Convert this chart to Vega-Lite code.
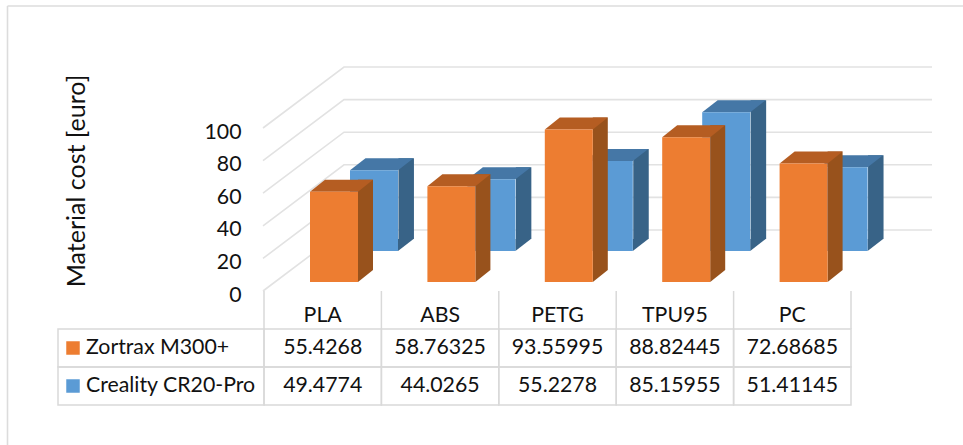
{
"$schema":"https://vega.github.io/schema/vega-lite/v6.json",
"width":963,"height":445,"padding":0,"autosize":{"type":"none"},"background":"white",
"config":{"view":{"stroke":null},"font":"Lato","text":{"font":"Lato","fontSize":21.3,"color":"#111111"}},
"datasets":{
"rows":[
{"material":"PLA","series":"Zortrax M300+","cost":55.4268},
{"material":"ABS","series":"Zortrax M300+","cost":58.76325},
{"material":"PETG","series":"Zortrax M300+","cost":93.55995},
{"material":"TPU95","series":"Zortrax M300+","cost":88.82445},
{"material":"PC","series":"Zortrax M300+","cost":72.68685},
{"material":"PLA","series":"Creality CR20-Pro","cost":49.4774},
{"material":"ABS","series":"Creality CR20-Pro","cost":44.0265},
{"material":"PETG","series":"Creality CR20-Pro","cost":55.2278},
{"material":"TPU95","series":"Creality CR20-Pro","cost":85.15955},
{"material":"PC","series":"Creality CR20-Pro","cost":51.41145}],
"ticks":[{"tick":0},{"tick":20},{"tick":40},{"tick":60},{"tick":80},{"tick":100}],
"names":[{"series":"Zortrax M300+"},{"series":"Creality CR20-Pro"}],
"edge":[{"edge":"frame"}]
},
"data":{"name":"rows"},
"resolve":{"scale":{"x":"independent","y":"independent"},"axis":{"x":"independent","y":"independent"}},
"layer":[
{"data":{"name":"edge"},"mark":{"type":"rule","color":"#dcdcdc","strokeWidth":1.6},
 "encoding":{"x":{"datum":0,"type":"quantitative","scale":{"domain":[0,1],"range":[7.5,963]},"axis":null},"x2":{"datum":1},"y":{"datum":0,"type":"quantitative","scale":{"domain":[0,1],"range":[6,445]},"axis":null}}},
{"data":{"name":"edge"},"mark":{"type":"rule","color":"#dcdcdc","strokeWidth":1.6},
 "encoding":{"y":{"datum":0,"type":"quantitative","scale":{"domain":[0,1],"range":[6,445]},"axis":null},"y2":{"datum":1},"x":{"datum":0,"type":"quantitative","scale":{"domain":[0,1],"range":[7.5,963]},"axis":null}}},
{"data":{"name":"ticks"},
  "mark":{"type":"point","shape":"M0 0L81 -61L669 -61","size":4,"filled":false,"fill":"transparent","stroke":"#e2e2e2","strokeWidth":1.6,"opacity":1},
  "encoding":{"x":{"datum":"PLA","bandPosition":0,"type":"nominal","scale":{"type":"band","domain":["PLA","ABS","PETG","TPU95","PC"],"range":[263,851],"padding":0},"axis":null},
   "y":{"field":"tick","type":"quantitative","scale":{"domain":[0,100],"range":[291,128],"nice":false},"axis":{"values":[0,20,40,60,80,100],"offset":-245,"domain":false,"ticks":false,"grid":false,"labelPadding":4,"labelFontSize":21.3,"labelColor":"#111111","labelFont":"Lato","labelOffset":4,"title":"Material cost [euro]","titleFont":"Lato","titleFontSize":25,"titleFontWeight":"normal","titleColor":"#111111","titleX":-169,"titleY":180.5,"titleAngle":270,"titleAlign":"center","titleBaseline":"middle"}}}},
{
"encoding":{
 "x":{"field":"material","type":"nominal","sort":null,"scale":{"type":"band","domain":["PLA","ABS","PETG","TPU95","PC"],"range":[264,851],"padding":0},"axis":null},
 "y":{"field":"cost","type":"quantitative","stack":null,"scale":{"domain":[0,100],"range":[291,128],"nice":false},"axis":null}
},
"layer":[
 {"transform":[{"filter":"datum.series === 'Creality CR20-Pro'"}],
  "layer":[
   {"mark":{"type":"bar","color":"#386387","width":15.5,"xOffset":83.5,"yOffset":-52,"y2Offset":-52},"encoding":{"y2":{"datum":0}}},
   {"mark":{"type":"point","shape":"M24 0L39.5 -12L24 -12Z","size":4,"filled":true,"color":"#386387","opacity":1,"xOffset":51.3,"yOffset":-40},"encoding":{"y":{"datum":0}}},
   {"mark":{"type":"point","shape":"M-24 0L24 0L39.5 -12L-8.5 -12Z","size":4,"filled":true,"color":"#4577A6","opacity":1,"xOffset":51.3,"yOffset":-40}},
   {"mark":{"type":"bar","width":48,"xOffset":51.3,"yOffset":-40,"y2Offset":-40},"encoding":{"y2":{"datum":0},"color":{"field":"series","type":"nominal","scale":{"domain":["Zortrax M300+","Creality CR20-Pro"],"range":["#ED7D31","#5B9BD5"]},"legend":null}}}
  ]},
 {"transform":[{"filter":"datum.series === 'Zortrax M300+'"}],
  "layer":[
   {"mark":{"type":"bar","color":"#98521C","width":15,"xOffset":42.8,"yOffset":-21,"y2Offset":-21},"encoding":{"y2":{"datum":0}}},
   {"mark":{"type":"point","shape":"M24 0L39 -12L24 -12Z","size":4,"filled":true,"color":"#98521C","opacity":1,"xOffset":11.3,"yOffset":-9},"encoding":{"y":{"datum":0}}},
   {"mark":{"type":"point","shape":"M-24 0L24 0L39 -12L-9 -12Z","size":4,"filled":true,"color":"#B55D22","opacity":1,"xOffset":11.3,"yOffset":-9}},
   {"mark":{"type":"bar","width":48,"xOffset":11.3,"yOffset":-9,"y2Offset":-9},"encoding":{"y2":{"datum":0},"color":{"field":"series","type":"nominal","scale":{"domain":["Zortrax M300+","Creality CR20-Pro"],"range":["#ED7D31","#5B9BD5"]},"legend":null}}}
  ]}
]},
{
"encoding":{
 "x":{"field":"material","type":"nominal","sort":null,"scale":{"type":"band","domain":["PLA","ABS","PETG","TPU95","PC"],"range":[264,851],"padding":0},"axis":null},
 "y":{"field":"series","type":"nominal","sort":null,"scale":{"type":"band","domain":["header","Zortrax M300+","Creality CR20-Pro"],"range":[291,405],"padding":0},"axis":null}
},
"layer":[
 {"mark":{"type":"rect","fill":"transparent","stroke":"#d9d9d9","strokeWidth":1.5}},
 {"transform":[{"filter":"datum.series === 'Zortrax M300+'"}],
  "mark":{"type":"rule","color":"#d9d9d9","strokeWidth":1.5,"yOffset":-19,"y2Offset":19},
  "encoding":{"x":{"field":"material","type":"nominal","bandPosition":0},"y":{"datum":"header"},"y2":{"datum":"header"}}},
 {"transform":[{"filter":"datum.series === 'Zortrax M300+' && datum.material === 'PC'"}],
  "mark":{"type":"rule","color":"#d9d9d9","strokeWidth":1.5,"yOffset":-19,"y2Offset":19},
  "encoding":{"x":{"field":"material","type":"nominal","bandPosition":1},"y":{"datum":"header"},"y2":{"datum":"header"}}},
 {"mark":{"type":"text","align":"center","baseline":"middle"},"encoding":{"text":{"field":"cost","type":"nominal"}}},
 {"transform":[{"filter":"datum.series === 'Zortrax M300+'"}],
  "mark":{"type":"text","align":"center","baseline":"middle","yOffset":6},
  "encoding":{"text":{"field":"material","type":"nominal"},"y":{"datum":"header"}}}
]},
{"data":{"name":"names"},
"encoding":{
 "x":{"datum":"series","type":"nominal","scale":{"type":"band","domain":["series"],"range":[58,264],"padding":0},"axis":null},
 "y":{"field":"series","type":"nominal","sort":null,"scale":{"type":"band","domain":["header","Zortrax M300+","Creality CR20-Pro"],"range":[291,405],"padding":0},"axis":null}
},
"layer":[
 {"mark":{"type":"rect","fill":"transparent","stroke":"#d9d9d9","strokeWidth":1.5}},
 {"mark":{"type":"point","shape":"square","size":182,"filled":true,"opacity":1,"xOffset":-88},
  "encoding":{"color":{"field":"series","type":"nominal","scale":{"domain":["Zortrax M300+","Creality CR20-Pro"],"range":["#ED7D31","#5B9BD5"]},"legend":null}}},
 {"mark":{"type":"text","align":"left","baseline":"middle","xOffset":-75},"encoding":{"text":{"field":"series","type":"nominal"}}}
]}
]
}
